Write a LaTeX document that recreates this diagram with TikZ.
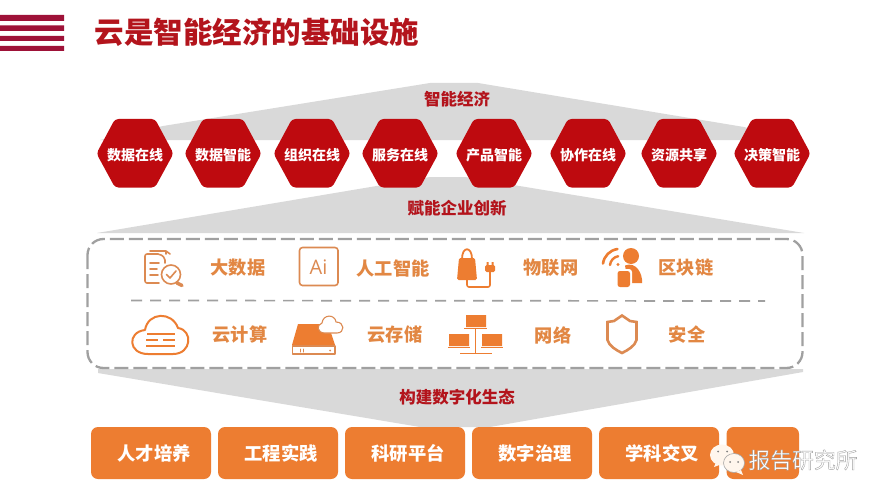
\documentclass[tikz,border=0pt]{standalone}
\usepackage{fontspec}
\setmainfont{Noto Sans CJK SC}
\newfontfamily\latinfont{Open Sans}
\definecolor{titlered}{HTML}{B3141C}
\definecolor{stripe}{HTML}{9E1238}
\definecolor{hexred}{HTML}{BE0A0F}
\definecolor{band}{HTML}{D9D9D9}
\definecolor{dashgray}{HTML}{A0A0A0}
\definecolor{orng}{HTML}{ED7D31}
\definecolor{iconline}{HTML}{DC8A52}
\definecolor{txtorng}{HTML}{E28743}
\newcommand{\fs}[1]{\fontsize{#1}{#1}\selectfont}
\tikzset{
  hexnode/.style={text=white,font=\fs{14}\bfseries,inner sep=0pt},
  hexshape/.style={fill=hexred,rounded corners=3.5pt},
  bandfill/.style={fill=band,draw=none},
  redlabel/.style={text=titlered,font=\fs{16.5}\bfseries,inner sep=0pt},
  techlabel/.style={text=txtorng,font=\fs{18.2}\bfseries,inner sep=0pt},
  ecobox/.style={fill=orng,rounded corners=7pt},
  ecolabel/.style={text=white,font=\fs{18.3}\bfseries,inner sep=0pt},
  iconl/.style={draw=iconline,line width=1.6pt,line cap=round,line join=round,fill=none},
}
\newcommand{\hexa}[3]{%
  \fill[hexshape] (#1-38.5,153.5) -- (#1-20,119) -- (#1+20,119) -- (#1+38.5,153.5) -- (#1+20,187.5) -- (#1-20,187.5) -- cycle;
  \node[hexnode] (#2) at (#1,155.5) {#3};}
\begin{document}
\begin{tikzpicture}[x=1pt,y=-1pt]
\useasboundingbox (0,0) rectangle (888,500);
\fill[white] (0,0) rectangle (888,500);
% stripes
\fill[stripe] (0,15) rectangle (64,21) (0,25.5) rectangle (64,31) (0,36) rectangle (64,41) (0,46) rectangle (64,51);
\node[text=titlered,font=\fs{29.5}\bfseries,inner sep=0pt] (title) at (257,32.5) {云是智能经济的基础设施};
% bands
\fill[bandfill] (100,140) -- (163,126) -- (430,83) -- (478,83) -- (744,127) -- (790,140) -- cycle;
\fill[bandfill] (97,233) -- (430,177) -- (465,177) -- (804,233) -- cycle;
\fill[bandfill] (98,369) -- (803,369) -- (803,372) -- (490,427) -- (420,427) -- (98,373) -- cycle;
\node[redlabel] (lab1) at (457,99) {智能经济};
\node[redlabel] (lab2) at (457,208) {赋能企业创新};
\node[redlabel] (lab3) at (457,397) {构建数字化生态};
% hexagons
\hexa{135}{h1}{数据在线}
\hexa{223}{h2}{数据智能}
\hexa{312}{h3}{组织在线}
\hexa{400}{h4}{服务在线}
\hexa{494}{h5}{产品智能}
\hexa{588}{h6}{协作在线}
\hexa{679}{h7}{资源共享}
\hexa{772}{h8}{决策智能}
% dashed panel
\fill[white] (88,239) rectangle (803,368);
\draw[dashgray,line width=2.3pt,dash pattern=on 14pt off 5pt,rounded corners=16pt] (87.5,239) rectangle (802.5,368);
\draw[dashgray,line width=1.7pt,dash pattern=on 11pt off 8pt] (131,300.5) -- (765,301);
% tech labels
\node[techlabel] (t1) at (238,268) {大数据};
\node[techlabel] (t2) at (393,268) {人工智能};
\node[techlabel] (t3) at (551,268) {物联网};
\node[techlabel] (t4) at (686,268) {区块链};
\node[techlabel] (t5) at (240,335) {云计算};
\node[techlabel] (t6) at (395,335) {云存储};
\node[techlabel] (t7) at (553,335) {网络};
\node[techlabel] (t8) at (687,335) {安全};
% icon: big data
\draw[iconl] (150,251) -- (166,251) -- (170,254) (166,251) -- (166,254);
\draw[iconl,rounded corners=2pt] (159,283) -- (145,283) -- (145,254) -- (160,254) -- (165,258) -- (165,263);
\draw[iconl] (150,263) -- (159,263) (150,269) -- (157,269) (150,275) -- (158,275);
\draw[iconl,fill=white] (171,274.5) circle (9.5);
\draw[iconl] (166.5,274.5) -- (170,278) -- (176,271);
\draw[iconl,line width=3.4pt] (177,283) -- (182,285.5);
% icon: Ai
\draw[iconl,rounded corners=3pt] (299.5,247.5) rectangle (338,285.5);
\node[text=iconline,font=\latinfont\fs{20},inner sep=0pt] (ai) at (318.5,267) {Ai};
% icon: plug bag
\fill[orng,rounded corners=1.5pt] (459,258) -- (475,258) -- (477,280) -- (457,280) -- cycle;
\draw[iconl,draw=orng,line width=1.8pt] (462,259) .. controls (462,246) and (472,246) .. (472,259);
\draw[iconl,draw=orng,line width=1.6pt,rounded corners=2pt] (467,280) -- (467,287) -- (490,287) -- (490,272);
\fill[orng,rounded corners=1.5pt] (485,265) rectangle (495,272);
\fill[orng] (486.5,262) rectangle (488.5,265) (491.5,262) rectangle (493.5,265);
% icon: person with phone
\fill[orng] (631,256) circle (8);
\fill[orng] (625,265.5) .. controls (636,261) and (643,274) .. (642,283) -- (628,283) -- cycle;
\fill[white,rounded corners=3pt] (616,269) rectangle (632,289);
\fill[orng,rounded corners=2.5pt] (617.5,271) rectangle (630,287);
\draw[orng,line width=2.6pt,line cap=round] (603,263.5) arc[start angle=188,end angle=262,radius=17];
\draw[orng,line width=2.4pt,line cap=round] (610,265) arc[start angle=186,end angle=260,radius=10];
\fill[orng] (618,264.5) circle (1.7);
% icon: cloud
\draw[iconl,draw=orng,line width=2pt,line join=round]
  (148,354) .. controls (128,354) and (127,332) .. (145,330)
  .. controls (148,312) and (172,311) .. (178,328)
  .. controls (193,330) and (192,354) .. (173,354) -- cycle;
\draw[iconl,draw=orng,line width=2pt,line cap=butt] (147,333.5) -- (175,333.5) (146,339.5) -- (158,339.5) (163,339.5) -- (175,339.5) (146,345.5) -- (175,345.5);
% icon: storage
\fill[orng] (298,324) -- (328,324) -- (335,345) -- (292,345) -- cycle;
\draw[iconl,line width=1.1pt] (292.5,346) rectangle (335,354);
\draw[iconl,line width=1pt] (300,349) -- (300,352) (303,349) -- (303,352);
\fill[iconline] (330,350.5) circle (1);
\draw[iconl,line width=1.1pt,fill=white] (325,333) .. controls (317,333) and (316,325) .. (322,323)
  .. controls (323,314) and (335,314) .. (336,322) .. controls (345,322) and (345,333) .. (337,333) -- cycle;
% icon: network
\fill[orng] (466,315) rectangle (486,327) (449,334) rectangle (469,346) (482,334) rectangle (502,346);
\draw[iconl,draw=orng,line width=1.2pt,line cap=butt]
  (464,328.8) -- (487,328.8) (448,347.8) -- (470,347.8) (481,347.8) -- (503,347.8)
  (475.5,329) -- (475.5,353) (460,353.5) -- (492,353.5);
% icon: shield
\draw[iconl,line width=2.6pt,line join=miter] (622,315.5) -- (630,321) -- (636.5,322) -- (636.5,340)
  .. controls (635,346) and (628,350) .. (622,353) .. controls (616,350) and (609,346) .. (607.5,340) -- (607.5,322) -- (614,321) -- cycle;
% bottom boxes
\fill[ecobox] (91,427) rectangle (211,479);
\fill[ecobox] (218,427) rectangle (338,479);
\fill[ecobox] (345,427) rectangle (465,479);
\fill[ecobox] (472,427) rectangle (592,479);
\fill[ecobox] (599,427) rectangle (719,479);
\fill[ecobox] (726.5,427) rectangle (799,479);
\node[ecolabel] (e1) at (154,453.5) {人才培养};
\node[ecolabel] (e2) at (281,453.5) {工程实践};
\node[ecolabel] (e3) at (408,453.5) {科研平台};
\node[ecolabel] (e4) at (535,453.5) {数字治理};
\node[ecolabel] (e5) at (662,453.5) {学科交叉};
% watermark
\fill[white!93!orange] (722,455) ellipse (12 and 10.5);
\fill[white!93!orange] (716,462) -- (714,467) -- (722,464) -- cycle;
\fill[gray] (718,451.5) circle (1) (727,451.5) circle (1);
\draw[gray!70,fill=white!93!orange,line width=.6pt] (734,463) ellipse (10.5 and 9.5);
\fill[white!93!orange] (741,470) -- (743,475) -- (736,472) -- cycle;
\fill[gray] (730,462) circle (1) (738,462) circle (1);
\node[inner sep=0pt,font=\fs{21.8}] (wm) at (803,460) {\special{pdf:code 2 Tr 0.35 w 0.62 0.62 0.62 RG 1 1 1 rg}报告研究所\special{pdf:code 0 Tr}};
\end{tikzpicture}
\end{document}
